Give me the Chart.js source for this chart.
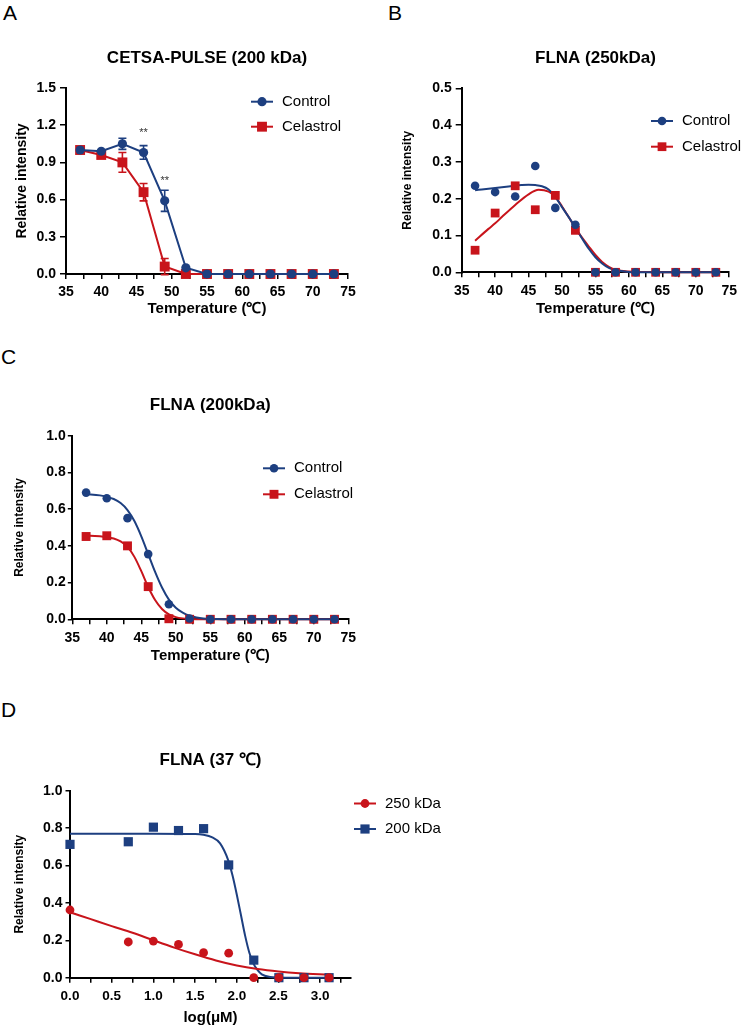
<!DOCTYPE html>
<html>
<head>
<meta charset="utf-8">
<script src="https://cdn.jsdelivr.net/npm/chart.js@4.4.0/dist/chart.umd.min.js"></script>
<style>
  body { margin: 0; background: #fff; }
  #page { position: relative; width: 742px; height: 1029px; font-family: 'Liberation Sans', Arial, sans-serif; }
  .letter { position: absolute; font-size: 21px; line-height: 1; color: #000; }
  canvas { position: absolute; }
</style>
</head>
<body>
<div id="page">
  <div class="letter" style="left:3px;top:2px">A</div>
  <div class="letter" style="left:388px;top:2px">B</div>
  <div class="letter" style="left:1px;top:346px">C</div>
  <div class="letter" style="left:1px;top:699px">D</div>
  <canvas id="chartA" width="370" height="300" style="left:0;top:30px"></canvas>
  <canvas id="chartB" width="372" height="300" style="left:370px;top:30px"></canvas>
  <canvas id="chartC" width="370" height="300" style="left:0;top:370px"></canvas>
  <canvas id="chartD" width="460" height="309" style="left:0;top:720px"></canvas>
</div>
<script>
// colours
const BLUE = '#1d3f80';
const RED = '#c8141b';

// temperatures (A, B, C)
const temps = [37, 40, 43, 46, 49, 52, 55, 58, 61, 64, 67, 70, 73];
const tempTicks = [35, 37.5, 40, 42.5, 45, 47.5, 50, 52.5, 55, 57.5, 60, 62.5, 65, 67.5, 70, 72.5, 75];

// A - CETSA-PULSE (200 kDa), mean +/- error
const pulseCtrl    = [1.00, 0.99, 1.05, 0.98, 0.59, 0.05, 0, 0, 0, 0, 0, 0, 0];
const pulseCtrlErr = [0, 0, 0.045, 0.055, 0.085, 0, 0, 0, 0, 0, 0, 0, 0];
const pulseCel     = [1.00, 0.96, 0.90, 0.66, 0.06, 0, 0, 0, 0, 0, 0, 0, 0];
const pulseCelErr  = [0, 0.01, 0.08, 0.07, 0.065, 0, 0, 0, 0, 0, 0, 0, 0];
const pulseStarX = [46, 49];
const pulseStarY = [1.14, 0.75];

// B - FLNA (250kDa)
const fl250Ctrl = [0.235, 0.218, 0.206, 0.289, 0.175, 0.129, 0, 0, 0, 0, 0, 0, 0];
const fl250Cel  = [0.060, 0.161, 0.235, 0.170, 0.209, 0.114, 0, 0, 0, 0, 0, 0, 0];
const fl250CtrlFitX = [37, 38, 40, 42, 44, 45, 46, 47, 48, 49, 50, 51, 52, 53, 54, 55, 56, 57, 58, 60, 62, 65, 70, 73];
const fl250CtrlFitY = [0.223, 0.225, 0.229, 0.233, 0.237, 0.238, 0.237, 0.234, 0.225, 0.205, 0.177, 0.150, 0.122, 0.092, 0.064, 0.041, 0.024, 0.012, 0.006, 0.001, 0, 0, 0, 0];
const fl250CelFitX  = [37, 39, 40, 41, 43, 45, 46.5, 48, 49, 50, 51, 52, 53, 54, 55, 56, 57, 58, 60, 62, 65, 70, 73];
const fl250CelFitY  = [0.086, 0.118, 0.133, 0.150, 0.183, 0.212, 0.224, 0.219, 0.205, 0.179, 0.150, 0.120, 0.094, 0.070, 0.047, 0.028, 0.015, 0.007, 0.002, 0.001, 0, 0, 0];

// C - FLNA (200kDa)
const fl200Ctrl = [0.690, 0.659, 0.551, 0.355, 0.082, 0.004, 0, 0, 0, 0, 0, 0, 0];
const fl200Cel  = [0.451, 0.455, 0.400, 0.178, 0.003, 0, 0, 0, 0, 0, 0, 0, 0];
const fl200CtrlFitX = [37, 39, 41, 42, 43, 44, 45, 46, 47, 48, 49, 50, 51, 52, 53, 54, 56, 58, 73];
const fl200CtrlFitY = [0.682, 0.675, 0.655, 0.633, 0.595, 0.535, 0.452, 0.355, 0.258, 0.173, 0.107, 0.063, 0.036, 0.019, 0.010, 0.005, 0.001, 0, 0];
const fl200CelFitX  = [37, 39, 41, 42, 43, 44, 45, 46, 47, 48, 49, 50, 51, 52, 54, 73];
const fl200CelFitY  = [0.455, 0.453, 0.440, 0.424, 0.395, 0.340, 0.262, 0.176, 0.105, 0.056, 0.027, 0.012, 0.005, 0.002, 0, 0];

// D - FLNA (37 ℃), log(µM)
const doses = [0, 0.699, 1.0, 1.301, 1.602, 1.903, 2.204, 2.505, 2.806, 3.107];
const doseTicks = [0, 0.25, 0.5, 0.75, 1.0, 1.25, 1.5, 1.75, 2.0, 2.25, 2.5, 2.75, 3.0, 3.25];
const d250 = [0.362, 0.191, 0.196, 0.178, 0.134, 0.131, 0, 0, 0, 0];
const d200 = [0.713, 0.727, 0.805, 0.787, 0.797, 0.603, 0.094, 0, 0, 0];
const d250FitX = [0, 0.25, 0.5, 0.75, 1.0, 1.25, 1.5, 1.75, 2.0, 2.25, 2.5, 2.75, 3.107];
const d250FitY = [0.350, 0.313, 0.276, 0.240, 0.200, 0.161, 0.125, 0.092, 0.065, 0.046, 0.033, 0.024, 0.016];
const d200FitX = [0, 0.5, 1.0, 1.5, 1.6, 1.7, 1.8, 1.9, 1.95, 2.0, 2.05, 2.1, 2.15, 2.2, 2.25, 2.3, 2.4, 2.5, 2.7, 3.107];
const d200FitY = [0.770, 0.770, 0.770, 0.768, 0.764, 0.752, 0.718, 0.625, 0.545, 0.445, 0.335, 0.225, 0.135, 0.075, 0.040, 0.018, 0.004, 0.001, 0, 0];

function pts(xs, ys) {
  return xs.map((x, i) => ({ x: x, y: ys[i] }));
}

function marker(ctx, style, x, y, r, color) {
  ctx.fillStyle = color;
  ctx.beginPath();
  if (style === 'rect') {
    const h = r * Math.SQRT1_2;
    ctx.rect(x - h, y - h, 2 * h, 2 * h);
  } else {
    ctx.arc(x, y, r, 0, Math.PI * 2);
  }
  ctx.fill();
}

// legend: short line with the marker in the middle, then the label
const lineLegend = {
  id: 'lineLegend',
  afterDraw(chart, args, opts) {
    if (!opts || opts.x === undefined) return;
    const ctx = chart.ctx;
    chart.data.datasets.filter(d => d.label).forEach((ds, i) => {
      const y = opts.y + i * opts.rowGap;
      ctx.save();
      ctx.strokeStyle = ds.borderColor;
      ctx.lineWidth = 2;
      ctx.beginPath();
      ctx.moveTo(opts.x, y);
      ctx.lineTo(opts.x + 22, y);
      ctx.stroke();
      marker(ctx, ds.pointStyle, opts.x + 11, y, ds.pointRadius, ds.backgroundColor);
      ctx.fillStyle = '#000';
      ctx.font = '15px "Liberation Sans", Arial, sans-serif';
      ctx.textBaseline = 'middle';
      ctx.fillText(ds.label, opts.x + 31, y);
      ctx.restore();
    });
  }
};

// error bars drawn under each dataset's markers
const errorBars = {
  id: 'errorBars',
  beforeDatasetDraw(chart, args) {
    const ds = chart.data.datasets[args.index];
    if (!ds.errors) return;
    const xs = chart.scales.x, ys = chart.scales.y, ctx = chart.ctx;
    ctx.save();
    ctx.strokeStyle = ds.borderColor;
    ctx.lineWidth = 1.6;
    ds.data.forEach((p, i) => {
      const e = ds.errors[i];
      if (!e) return;
      const px = xs.getPixelForValue(p.x);
      const t = ys.getPixelForValue(p.y + e), b = ys.getPixelForValue(p.y - e);
      ctx.beginPath();
      ctx.moveTo(px, t); ctx.lineTo(px, b);
      ctx.moveTo(px - 4, t); ctx.lineTo(px + 4, t);
      ctx.moveTo(px - 4, b); ctx.lineTo(px + 4, b);
      ctx.stroke();
    });
    ctx.restore();
  }
};

// significance stars
const stars = {
  id: 'stars',
  afterDatasetsDraw(chart, args, opts) {
    if (!opts || !opts.xs) return;
    const ctx = chart.ctx;
    ctx.save();
    ctx.fillStyle = '#333';
    ctx.font = '11px "Liberation Sans", Arial, sans-serif';
    ctx.textAlign = 'center';
    ctx.textBaseline = 'middle';
    opts.xs.forEach((x, i) => {
      ctx.fillText('**', chart.scales.x.getPixelForValue(x), chart.scales.y.getPixelForValue(opts.ys[i]));
    });
    ctx.restore();
  }
};

function pointSet(label, xs, ys, color, style, r, extra) {
  return Object.assign({
    label: label,
    data: pts(xs, ys),
    borderColor: color,
    backgroundColor: color,
    pointStyle: style,
    pointRadius: r,
    pointBorderWidth: 0,
    showLine: false,
    clip: false,
    order: 1
  }, extra || {});
}

function fitSet(xs, ys, color) {
  return {
    data: pts(xs, ys),
    borderColor: color,
    borderWidth: 2,
    pointRadius: 0,
    showLine: true,
    cubicInterpolationMode: 'monotone',
    clip: false,
    order: 2
  };
}

function makeOptions(o) {
  return {
    responsive: false,
    animation: false,
    events: [],
    layout: { padding: { left: 0, right: o.padRight, top: 0, bottom: 0 } },
    plugins: {
      legend: { display: false },
      tooltip: { enabled: false },
      title: {
        display: true,
        fullSize: false,
        text: o.title,
        color: '#000',
        font: { size: 17, weight: 'bold' },
        padding: { top: o.titleTop, bottom: o.titleBottom }
      },
      lineLegend: o.legend,
      stars: o.stars || {}
    },
    scales: {
      x: {
        type: 'linear',
        min: o.xMin,
        max: o.xMax,
        afterFit: s => { s.height = o.xHeight; },
        afterBuildTicks: s => { s.ticks = o.xTicks.map(v => ({ value: v })); },
        ticks: {
          callback: o.xLabel,
          autoSkip: false,
          maxRotation: 0,
          color: '#000',
          padding: 5,
          font: { size: o.xTickSize || o.tickSize, weight: 'bold' }
        },
        grid: { drawOnChartArea: false, tickLength: 5, color: '#000', lineWidth: 1.5 },
        border: { color: '#000', width: 2 },
        title: {
          display: true,
          text: o.xTitle,
          color: '#000',
          font: { size: 15, weight: 'bold' },
          padding: { top: 0, bottom: o.xTitlePad }
        }
      },
      y: {
        type: 'linear',
        min: 0,
        max: o.yMax,
        afterFit: s => { s.width = o.yWidth; },
        afterBuildTicks: s => { s.ticks = o.yTicks.map(v => ({ value: v })); },
        ticks: {
          callback: v => v.toFixed(1),
          color: '#000',
          padding: o.yPad,
          font: { size: o.tickSize, weight: 'bold' }
        },
        grid: { drawOnChartArea: false, tickLength: o.yTickLen, color: '#000', lineWidth: 1.5 },
        border: { color: '#000', width: 2 },
        title: {
          display: true,
          text: 'Relative intensity',
          color: '#000',
          font: { size: o.yTitleSize, weight: 'bold' },
          padding: { top: o.yTitlePad, bottom: 0 }
        }
      }
    }
  };
}

const tempLabel = v => (v % 5 === 0 ? String(v) : '');
const plugins = [lineLegend, errorBars, stars];

// A
new Chart(document.getElementById('chartA'), {
  type: 'scatter',
  data: {
    datasets: [
      pointSet('Control', temps, pulseCtrl, BLUE, 'circle', 4.6, { showLine: true, borderWidth: 2, errors: pulseCtrlErr }),
      pointSet('Celastrol', temps, pulseCel, RED, 'rect', 7, { showLine: true, borderWidth: 2, errors: pulseCelErr })
    ]
  },
  options: makeOptions({
    title: 'CETSA-PULSE (200 kDa)', titleTop: 17.8, titleBottom: 19.8,
    padRight: 22, yWidth: 66, xHeight: 56, xTitlePad: 12,
    xMin: 35, xMax: 75, xTicks: tempTicks, xLabel: tempLabel, xTitle: 'Temperature (℃)',
    yMax: 1.5, yTicks: [0, 0.3, 0.6, 0.9, 1.2, 1.5], yPad: 4, yTickLen: 6,
    tickSize: 14, yTitleSize: 14, yTitlePad: 13.6,
    legend: { x: 251, y: 71.7, rowGap: 25 },
    stars: { xs: pulseStarX, ys: pulseStarY }
  }),
  plugins: plugins
});

// B
new Chart(document.getElementById('chartB'), {
  type: 'scatter',
  data: {
    datasets: [
      pointSet('Control', temps, fl250Ctrl, BLUE, 'circle', 4.3),
      pointSet('Celastrol', temps, fl250Cel, RED, 'rect', 6.2),
      fitSet(fl250CtrlFitX, fl250CtrlFitY, BLUE),
      fitSet(fl250CelFitX, fl250CelFitY, RED)
    ]
  },
  options: makeOptions({
    title: 'FLNA (250kDa)', titleTop: 17.8, titleBottom: 20.1,
    padRight: 10.3, yWidth: 91.7, xHeight: 57.7, xTitlePad: 12,
    xMin: 35, xMax: 75, xTicks: tempTicks, xLabel: tempLabel, xTitle: 'Temperature (℃)',
    yMax: 0.5, yTicks: [0, 0.1, 0.2, 0.3, 0.4, 0.5], yPad: 4, yTickLen: 6,
    tickSize: 14, yTitleSize: 12, yTitlePad: 30.8,
    legend: { x: 281, y: 91, rowGap: 25.7 }
  }),
  plugins: plugins
});

// C
new Chart(document.getElementById('chartC'), {
  type: 'scatter',
  data: {
    datasets: [
      pointSet('Control', temps, fl200Ctrl, BLUE, 'circle', 4.3),
      pointSet('Celastrol', temps, fl200Cel, RED, 'rect', 6.3),
      fitSet(fl200CtrlFitX, fl200CtrlFitY, BLUE),
      fitSet(fl200CelFitX, fl200CelFitY, RED)
    ]
  },
  options: makeOptions({
    title: 'FLNA (200kDa)', titleTop: 24.8, titleBottom: 20.5,
    padRight: 21.7, yWidth: 72.3, xHeight: 50.7, xTitlePad: 5,
    xMin: 35, xMax: 75, xTicks: tempTicks, xLabel: tempLabel, xTitle: 'Temperature (℃)',
    yMax: 1.0, yTicks: [0, 0.2, 0.4, 0.6, 0.8, 1.0], yPad: 2, yTickLen: 4.5,
    tickSize: 14, yTitleSize: 12, yTitlePad: 12.8,
    legend: { x: 263, y: 98.3, rowGap: 26 }
  }),
  plugins: plugins
});

// D
new Chart(document.getElementById('chartD'), {
  type: 'scatter',
  data: {
    datasets: [
      pointSet('250 kDa', doses, d250, RED, 'circle', 4.4, { order: 0 }),
      pointSet('200 kDa', doses, d200, BLUE, 'rect', 6.5),
      fitSet(d250FitX, d250FitY, RED),
      fitSet(d200FitX, d200FitY, BLUE)
    ]
  },
  options: makeOptions({
    title: 'FLNA (37 ℃)', titleTop: 29.8, titleBottom: 20.5,
    padRight: 109, yWidth: 70, xHeight: 51.3, xTitlePad: 2,
    xMin: 0, xMax: 3.37, xTicks: doseTicks, xLabel: v => (Math.abs(v * 2 - Math.round(v * 2)) < 1e-9 ? v.toFixed(1) : ''), xTitle: 'log(μM)',
    yMax: 1.0, yTicks: [0, 0.2, 0.4, 0.6, 0.8, 1.0], yPad: 3, yTickLen: 4.5,
    tickSize: 14, xTickSize: 13.5, yTitleSize: 12, yTitlePad: 12.8,
    legend: { x: 354, y: 83.5, rowGap: 25.5 }
  }),
  plugins: plugins
});
</script>
</body>
</html>
